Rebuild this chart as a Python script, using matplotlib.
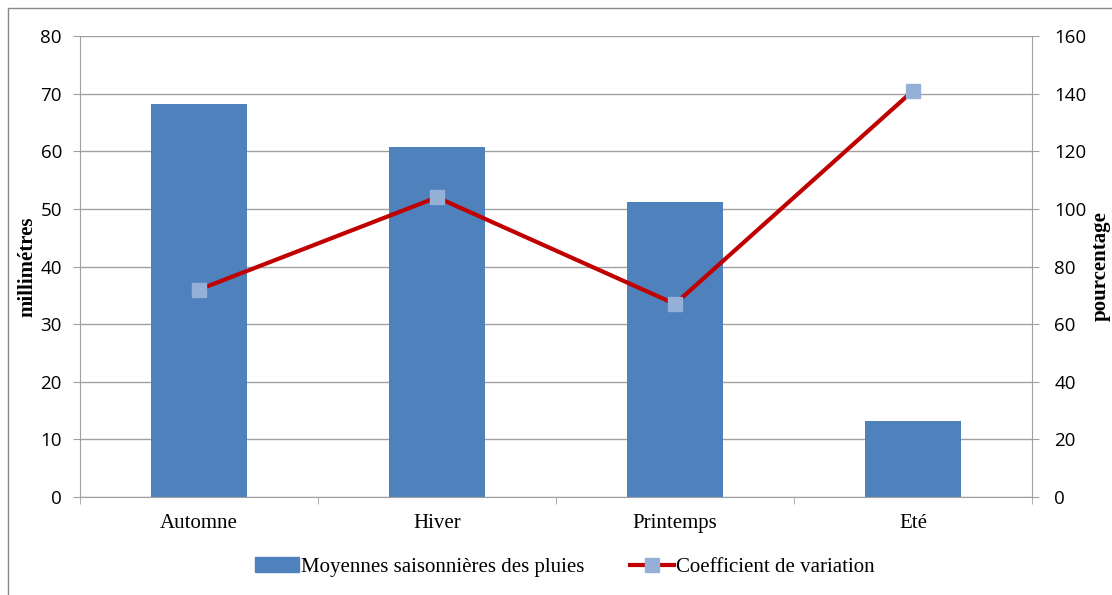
import matplotlib
matplotlib.use("Agg")
import matplotlib.pyplot as plt
from matplotlib.patches import Rectangle
from matplotlib.lines import Line2D
import numpy as np

categories = ["Automne", "Hiver", "Printemps", "Eté"]
rain_mm = [68.2, 60.8, 51.2, 13.2]
cv_pct = [72, 104, 67, 141]

bar_color = "#4F81BD"
line_color = "#C00000"
marker_color = "#95B0D6"
grid_color = "#A0A0A0"
sans = ["Open Sans", "DejaVu Sans"]
serif = ["Liberation Serif", "DejaVu Serif"]

fig = plt.figure(figsize=(11.12, 5.95), dpi=100)
ax = fig.add_axes([80/1112, 98/595, 952/1112, 461/595])
x = np.arange(len(categories))
ax.bar(x, rain_mm, width=0.4, color=bar_color, zorder=2, label="Moyennes saisonnières des pluies")
ax.set_xlim(-0.5, len(categories) - 0.5)
ax.set_ylim(0, 80)
ax.set_yticks(np.arange(0, 81, 10))
ax.yaxis.grid(True, color=grid_color, linewidth=1, zorder=0)
ax.set_axisbelow(True)
ax.set_xticks(x)
ax.set_xticklabels(categories, fontfamily=serif, fontsize=15)
ax.set_xticks(np.arange(-0.5, len(categories)), minor=True)
ax.tick_params(axis="x", which="major", length=0, pad=12)
ax.tick_params(axis="x", which="minor", length=5, color=grid_color)
ax.tick_params(axis="y", length=5, color=grid_color, labelsize=13.5, pad=8)
for lab in ax.get_yticklabels():
    lab.set_fontfamily(sans)
for s in ["top", "right"]:
    ax.spines[s].set_visible(False)
for s in ["left", "bottom"]:
    ax.spines[s].set_color(grid_color)
ax.set_ylabel("millimétres", fontfamily=serif, fontweight="bold", fontsize=15, labelpad=2)

ax2 = ax.twinx()
ax2.plot(x, cv_pct, color=line_color, linewidth=3, marker="s", markersize=10,
         markerfacecolor=marker_color, markeredgecolor=marker_color, zorder=3)
ax2.set_ylim(0, 160)
ax2.set_yticks(np.arange(0, 161, 20))
ax2.tick_params(axis="y", length=5, color=grid_color, labelsize=13.5, pad=11)
for lab in ax2.get_yticklabels():
    lab.set_fontfamily(sans)
for s in ["top", "left", "bottom"]:
    ax2.spines[s].set_visible(False)
ax2.spines["right"].set_color(grid_color)
ax2.set_ylabel("pourcentage", fontfamily=serif, fontweight="bold", fontsize=15, labelpad=3)

handles = [Rectangle((0, 0), 1, 1, color=bar_color),
           Line2D([0], [0], color=line_color, linewidth=3, marker="s", markersize=10,
                  markerfacecolor=marker_color, markeredgecolor=marker_color)]
fig.legend(handles, ["Moyennes saisonnières des pluies", "Coefficient de variation"],
           loc="center", bbox_to_anchor=(565/1112, 1 - 567/595), ncol=2, frameon=False,
           prop={"family": serif, "size": 15}, handlelength=2.1, handletextpad=0.1,
           columnspacing=2.2)

fig.patches.append(Rectangle((8/1112, -0.1), 2, 1 - 8/595 + 0.1, transform=fig.transFigure,
                             fill=False, edgecolor="#888888", linewidth=1))

fig.savefig("out.png", dpi=100)
